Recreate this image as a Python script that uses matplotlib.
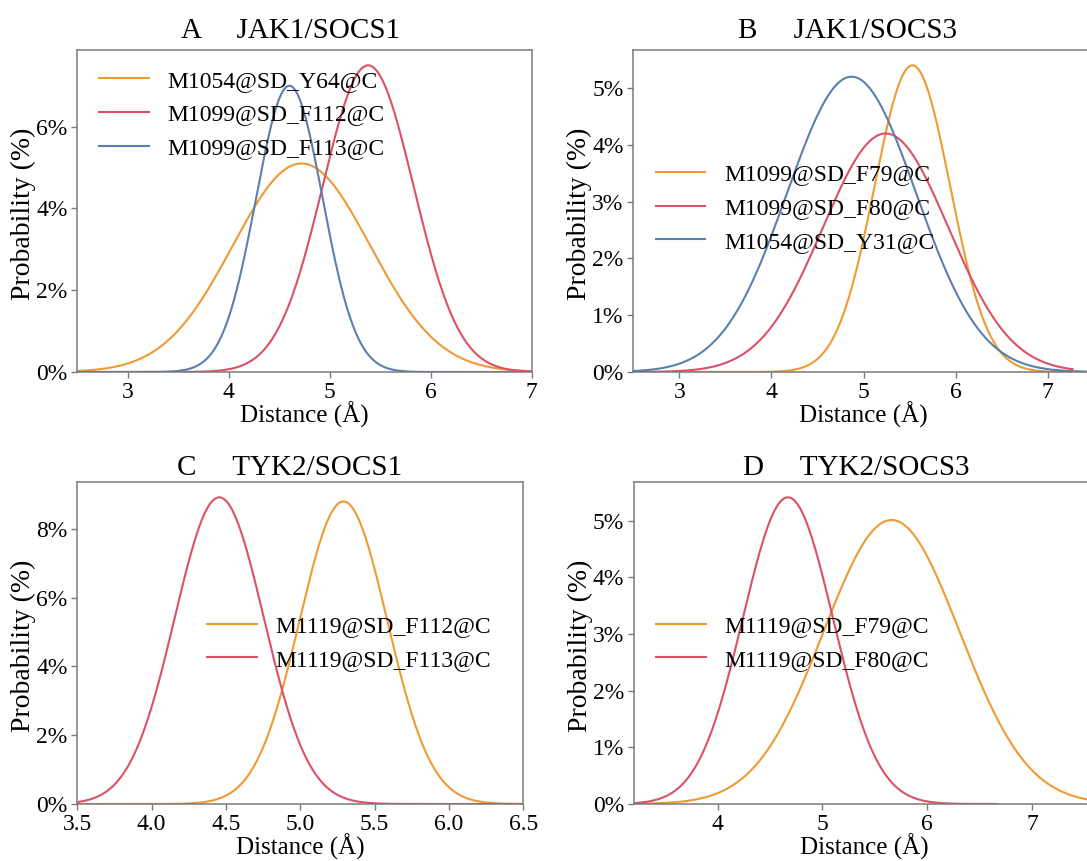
import numpy as np
import matplotlib
matplotlib.use("Agg")
import matplotlib.pyplot as plt
from matplotlib.ticker import PercentFormatter, MultipleLocator, FormatStrFormatter

plt.rcParams['font.family'] = ['Liberation Serif', 'DejaVu Serif']

# ---- data (Gaussian-shaped distance distributions) ----
# Panel A  JAK1/SOCS1
a_labels = ["M1054@SD_Y64@C", "M1099@SD_F112@C", "M1099@SD_F113@C"]
a_mean   = [4.72, 5.38, 4.60]
a_sigma  = [0.68, 0.45, 0.33]
a_peak   = [5.10, 7.50, 7.00]
a_xmin   = [2.5, 2.5, 2.5]
a_xmax   = [7.0, 7.0, 7.0]

# Panel B  JAK1/SOCS3
b_labels = ["M1099@SD_F79@C", "M1099@SD_F80@C", "M1054@SD_Y31@C"]
b_mean   = [5.53, 5.24, 4.87]
b_sigma  = [0.41, 0.68, 0.70]
b_peak   = [5.40, 4.20, 5.20]
b_xmin   = [2.5, 2.5, 2.5]
b_xmax   = [7.5, 7.27, 7.5]

# Panel C  TYK2/SOCS1
c_labels = ["M1119@SD_F112@C", "M1119@SD_F113@C"]
c_mean   = [5.29, 4.455]
c_sigma  = [0.295, 0.30]
c_peak   = [8.80, 8.92]
c_xmin   = [3.5, 3.5]
c_xmax   = [6.5, 6.5]

# Panel D  TYK2/SOCS3
d_labels = ["M1119@SD_F79@C", "M1119@SD_F80@C"]
d_mean   = [5.66, 4.67]
d_sigma  = [0.65, 0.43]
d_peak   = [5.01, 5.41]
d_xmin   = [3.2, 3.2]
d_xmax   = [7.6, 6.66]

titles = ["A     JAK1/SOCS1", "B     JAK1/SOCS3", "C     TYK2/SOCS1", "D     TYK2/SOCS3"]

ORANGE = '#EF9A32'
RED = '#DC5166'
BLUE = '#5A80AE'
GRAY = '#7a7a7a'

W, H = 1087, 861
fig = plt.figure(figsize=(W / 100, H / 100), dpi=100)

def px_rect(left, right, top, bottom):
    return [left / W, 1 - bottom / H, (right - left) / W, (bottom - top) / H]

panels = [
    dict(px=(77.3, 531.7, 50, 372), labels=a_labels, mean=a_mean, sigma=a_sigma,
         peak=a_peak, xmin=a_xmin, xmax=a_xmax, colors=[ORANGE, RED, BLUE],
         xlim=(2.5, 7.0), ystep=2, xstep=1, xfmt='%d', leg=(0.048, 0.799),
         title_xy=(291, 38)),
    dict(px=(633.3, 1093.8, 50, 372), labels=b_labels, mean=b_mean, sigma=b_sigma,
         peak=b_peak, xmin=b_xmin, xmax=b_xmax, colors=[ORANGE, RED, BLUE],
         xlim=(2.5, 7.5), ystep=1, xstep=1, xfmt='%d', leg=(0.049, 0.509),
         title_xy=(848, 38)),
    dict(px=(77.3, 523.3, 482, 804), labels=c_labels, mean=c_mean, sigma=c_sigma,
         peak=c_peak, xmin=c_xmin, xmax=c_xmax, colors=[ORANGE, RED],
         xlim=(3.5, 6.5), ystep=2, xstep=0.5, xfmt='%.1f', leg=(0.291, 0.5),
         title_xy=(290, 475)),
    dict(px=(634, 1094.7, 482, 804), labels=d_labels, mean=d_mean, sigma=d_sigma,
         peak=d_peak, xmin=d_xmin, xmax=d_xmax, colors=[ORANGE, RED],
         xlim=(3.2, 7.6), ystep=1, xstep=1, xfmt='%d', leg=(0.048, 0.5),
         title_xy=(856, 475)),
]

for p, title in zip(panels, titles):
    l, r, t, b = p['px']
    ax = fig.add_axes(px_rect(l, r, t, b))
    for lab, m, s, pk, lo, hi, col in zip(p['labels'], p['mean'], p['sigma'], p['peak'],
                                          p['xmin'], p['xmax'], p['colors']):
        x = np.linspace(lo, hi, 500)
        y = pk * np.exp(-0.5 * ((x - m) / s) ** 2)
        ax.plot(x, y, color=col, lw=1.5, label=lab)
    ax.set_xlim(*p['xlim'])
    ymax = max(p['peak']) * 1.05
    ax.set_ylim(0, ymax)
    ax.yaxis.set_major_locator(MultipleLocator(p['ystep']))
    ax.yaxis.set_major_formatter(PercentFormatter(decimals=0))
    ax.xaxis.set_major_locator(MultipleLocator(p['xstep']))
    ax.xaxis.set_major_formatter(FormatStrFormatter(p['xfmt']))
    ax.tick_params(axis='both', direction='out', length=4, width=1, color=GRAY,
                   labelsize=17, pad=3)
    for sp in ax.spines.values():
        sp.set_color(GRAY)
        sp.set_linewidth(1.1)
    wpx, hpx = r - l, b - t
    ax.set_xlabel("Distance (Å)", fontsize=18, va='baseline')
    ax.xaxis.set_label_coords(0.5, -51 / hpx)
    ax.set_ylabel("Probability (%)", fontsize=20, va='center')
    ax.yaxis.set_label_coords(-54 / wpx, 0.49)
    ax.legend(loc='center left', bbox_to_anchor=p['leg'], frameon=False, fontsize=17,
              borderpad=0, borderaxespad=0, handlelength=2.1, handletextpad=0.8,
              labelspacing=0.52)
    tx, ty = p['title_xy']
    fig.text(tx / W, 1 - ty / H, title, fontsize=21, ha='center', va='baseline')

fig.savefig("out.png", dpi=100)
